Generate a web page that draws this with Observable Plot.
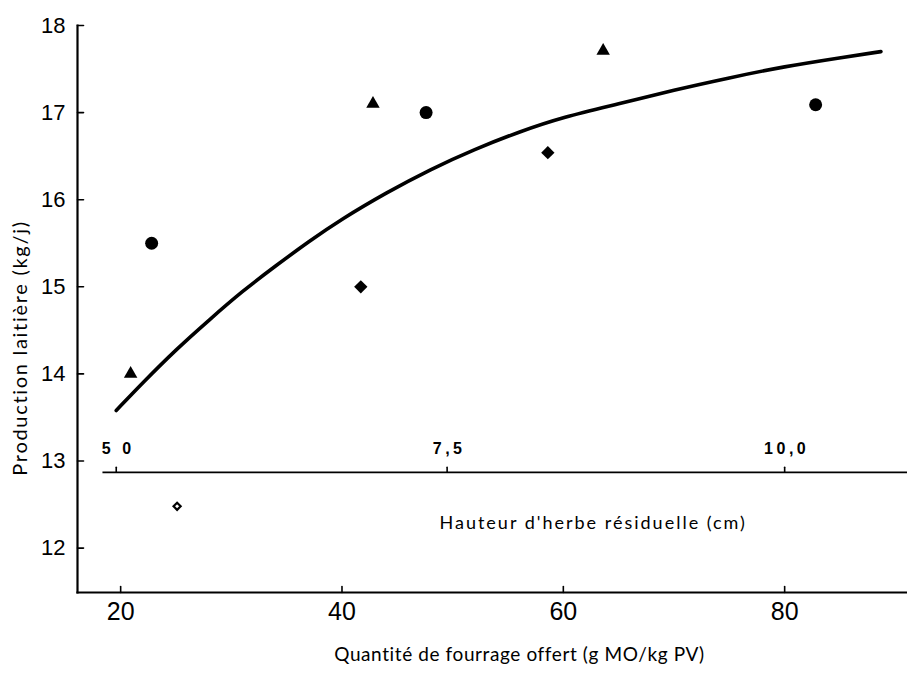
<!DOCTYPE html>
<html>
<head>
<meta charset="utf-8">
<script src="https://cdn.jsdelivr.net/npm/d3@7"></script>
<script src="https://cdn.jsdelivr.net/npm/@observablehq/plot@0.6"></script>
<style>
  html, body { margin: 0; padding: 0; background: #fff; }
  #chart svg { display: block; }
</style>
</head>
<body>
<div id="chart"></div>
<script>
// ---- data ----
const yTicks = [12, 13, 14, 15, 16, 17, 18];
const xTicks = [20, 40, 60, 80];

const triX = [20.9, 42.8, 63.6];
const triY = [14.0, 17.1, 17.71];
const circX = [22.8, 47.6, 82.8];
const circY = [15.5, 17.0, 17.09];
const diaX = [41.7, 58.6];
const diaY = [15.0, 16.54];
const openX = [25.1];
const openY = [12.48];

const curveX = [19.6, 22, 25, 28, 31, 34, 37, 40, 44, 48, 52, 56, 60, 65, 70, 75, 80, 85, 88.7];
const curveY = [13.58, 13.90, 14.28, 14.62, 14.95, 15.24, 15.52, 15.78, 16.08, 16.35, 16.58, 16.78, 16.95, 17.10, 17.26, 17.40, 17.53, 17.63, 17.70];

// secondary scale: residual grass height (cm)
const secAxisLevel = [12.87];
const secAxisStart = [18.4];
const secAxisEnd = [91.1];
const secTickPos = [19.6, 49.5, 80];
const secTickLabels = ["5 0", "7,5", "10,0"];
const secTitle = ["Hauteur d'herbe résiduelle (cm)"];
const secTitlePos = {x: 62.7, y: 12.29};

const xTitle = "Quantité de fourrage offert (g MO/kg PV)";
const yTitle = "Production laitière (kg/j)";

const xDomain = [16.1, 91.1];
const yDomain = [11.49, 18];

const zip = (xs, ys) => xs.map((x, i) => ({x, y: ys[i]}));
const tri = zip(triX, triY), circ = zip(circX, circY), dia = zip(diaX, diaY), open = zip(openX, openY);
const curve = zip(curveX, curveY);
const secTicks = secTickPos.map((x, i) => ({x, y: secAxisLevel[0], label: secTickLabels[i]}));

const labelFont = "Lato, 'Open Sans', sans-serif";
const tickFont = "'Liberation Sans', Arial, sans-serif";

// a plain straight tick shape for vectors
const stick = {draw(context, l) { context.moveTo(0, 0); context.lineTo(0, -l); }};

const chart = Plot.plot({
  width: 907,
  height: 680,
  marginLeft: 77,
  marginRight: 0,
  marginTop: 25,
  marginBottom: 88,
  style: {background: "#fff", color: "#000"},
  x: {domain: xDomain},
  y: {domain: yDomain},
  marks: [
    Plot.frame({anchor: "left", strokeWidth: 2.2, stroke: "#000"}),
    Plot.frame({anchor: "bottom", strokeWidth: 2.2, stroke: "#000"}),
    // inward ticks on the y axis
    Plot.vector(yTicks, {x: () => xDomain[0], y: d => d, length: 6, rotate: 90, anchor: "start", shape: stick, stroke: "#000", strokeWidth: 1.6}),
    Plot.axisY(yTicks, {tickSize: 0, tickPadding: 12, fontSize: 22, fontFamily: tickFont, label: null, tickFormat: d => String(d)}),
    // inward ticks on the x axis
    Plot.vector(xTicks, {x: d => d, y: () => yDomain[0], length: 6, rotate: 0, anchor: "start", shape: stick, stroke: "#000", strokeWidth: 1.6}),
    Plot.axisX(xTicks, {tickSize: 0, tickPadding: 10, fontSize: 25, fontFamily: tickFont, label: null, tickFormat: d => String(d)}),
    // secondary axis
    Plot.ruleY(secAxisLevel, {x1: () => secAxisStart[0], x2: () => secAxisEnd[0], stroke: "#000", strokeWidth: 1.8}),
    Plot.vector(secTicks, {x: "x", y: "y", length: 5, rotate: 0, anchor: "start", shape: stick, stroke: "#000", strokeWidth: 1.6}),
    Plot.text(secTicks, {x: "x", y: "y", text: "label", dy: -23, dx: 2, fontSize: 16, fontWeight: "bold", fontFamily: tickFont, fill: "#000"}),
    Plot.text(secTitle, {x: () => secTitlePos.x, y: () => secTitlePos.y, fontSize: 18, fontFamily: labelFont, fill: "#000"}),
    // fitted curve
    Plot.line(curve, {x: "x", y: "y", stroke: "#000", strokeWidth: 3.6, curve: "basis"}),
    // observations
    Plot.dot(tri, {x: "x", y: "y", symbol: "triangle", r: 5, fill: "#000"}),
    Plot.dot(circ, {x: "x", y: "y", symbol: "circle", r: 6.5, fill: "#000"}),
    Plot.dot(dia, {x: "x", y: "y", symbol: "diamond2", r: 6, fill: "#000"}),
    Plot.dot(open, {x: "x", y: "y", symbol: "diamond2", r: 3.2, fill: "none", stroke: "#000", strokeWidth: 2.2}),
    // axis titles
    Plot.text([xTitle], {frameAnchor: "bottom", dx: 27, dy: 68, fontSize: 19, fontFamily: labelFont, fill: "#000"}),
    Plot.text([yTitle], {frameAnchor: "left", dx: -57, dy: 39, rotate: -90, textAnchor: "middle", fontSize: 20, fontFamily: labelFont, fill: "#000"})
  ]
});
// spread letters like the printed original
d3.select(chart).selectAll("text").each(function() {
  const t = this.textContent;
  if (t === secTitle[0]) this.setAttribute("letter-spacing", "2");
  if (t === yTitle) this.setAttribute("letter-spacing", "1.7");
  if (t === xTitle) this.setAttribute("letter-spacing", "0.6");
  if (secTickLabels.includes(t)) this.setAttribute("letter-spacing", "3.5");
});
document.getElementById("chart").appendChild(chart);
</script>
</body>
</html>
